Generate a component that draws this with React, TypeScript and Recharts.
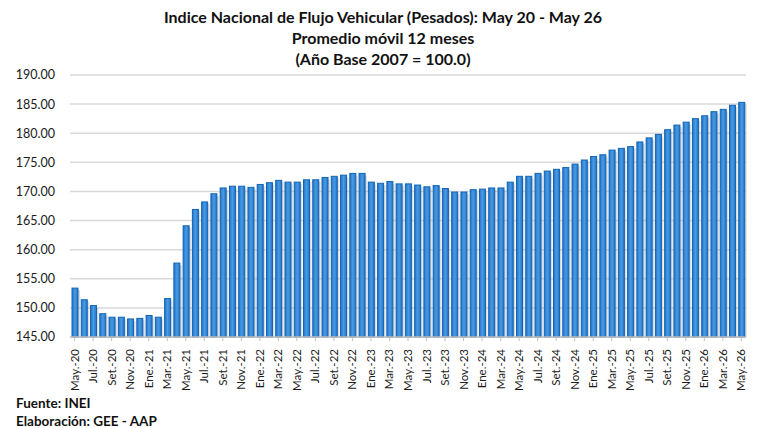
import { BarChart, Bar, XAxis, YAxis, CartesianGrid } from "recharts"

const MONTHS = [
  "May.-20", "Jun.-20", "Jul.-20", "Ago.-20", "Set.-20", "Oct.-20", "Nov.-20", "Dic.-20",
  "Ene.-21", "Feb.-21", "Mar.-21", "Abr.-21", "May.-21", "Jun.-21", "Jul.-21", "Ago.-21",
  "Set.-21", "Oct.-21", "Nov.-21", "Dic.-21", "Ene.-22", "Feb.-22", "Mar.-22", "Abr.-22",
  "May.-22", "Jun.-22", "Jul.-22", "Ago.-22", "Set.-22", "Oct.-22", "Nov.-22", "Dic.-22",
  "Ene.-23", "Feb.-23", "Mar.-23", "Abr.-23", "May.-23", "Jun.-23", "Jul.-23", "Ago.-23",
  "Set.-23", "Oct.-23", "Nov.-23", "Dic.-23", "Ene.-24", "Feb.-24", "Mar.-24", "Abr.-24",
  "May.-24", "Jun.-24", "Jul.-24", "Ago.-24", "Set.-24", "Oct.-24", "Nov.-24", "Dic.-24",
  "Ene.-25", "Feb.-25", "Mar.-25", "Abr.-25", "May.-25", "Jun.-25", "Jul.-25", "Ago.-25",
  "Set.-25", "Oct.-25", "Nov.-25", "Dic.-25", "Ene.-26", "Feb.-26", "Mar.-26", "Abr.-26",
  "May.-26",
]

const INDICE = [
  153.4, 151.4, 150.4, 149.0, 148.4, 148.4, 148.1, 148.2,
  148.7, 148.4, 151.6, 157.7, 164.1, 166.9, 168.2, 169.6,
  170.6, 170.9, 170.9, 170.7, 171.2, 171.5, 171.9, 171.6,
  171.6, 172.0, 172.0, 172.4, 172.6, 172.8, 173.1, 173.1,
  171.6, 171.4, 171.7, 171.3, 171.3, 171.1, 170.8, 171.0,
  170.5, 169.9, 169.9, 170.3, 170.4, 170.6, 170.6, 171.6,
  172.6, 172.6, 173.1, 173.5, 173.8, 174.1, 174.7, 175.4,
  176.0, 176.3, 177.1, 177.4, 177.7, 178.5, 179.2, 179.8,
  180.6, 181.4, 181.9, 182.5, 183.0, 183.7, 184.1, 184.8,
  185.3,
]

const Y_TICKS = [145, 150, 155, 160, 165, 170, 175, 180, 185, 190]

const TITLE = [
  "Indice Nacional de Flujo Vehicular (Pesados): May 20 - May 26",
  "Promedio móvil 12 meses",
  "(Año Base 2007 = 100.0)",
]

const data = MONTHS.map((m, i) => ({ mes: m, valor: INDICE[i] }))

const FONT = "Lato, 'Liberation Sans', sans-serif"

const BarShape = (props: any) => {
  const { x, y, width, height } = props
  if (height <= 0) return null
  return (
    <g>
      <rect x={x + 2} y={y + 2} width={width} height={height - 2} fill="#9a9a9a" opacity={0.35} />
      <rect x={x} y={y} width={width} height={height} fill="url(#barGrad)" stroke="#1464b4" strokeWidth={1} />
    </g>
  )
}

const XTick = ({ x, y, payload }: any) => (
  <text
    x={x} y={y + 6} dy={4}
    transform={`rotate(-90 ${x} ${y + 6})`}
    textAnchor="end" fontSize={11.5} fill="#1a1a1a" fontFamily={FONT}
  >
    {payload.value}
  </text>
)

export default function App() {
  return (
    <div style={{ position: "relative", width: 768, height: 428, background: "#fff", overflow: "hidden", fontFamily: FONT }}>
      <style>{"body{margin:0}"}</style>
      <div style={{ position: "absolute", top: 6, left: 0, width: 766, textAlign: "center", fontWeight: 700, fontSize: 16, lineHeight: "21px", color: "#111" }}>
        {TITLE.map((t) => <div key={t}>{t}</div>)}
      </div>
      <BarChart width={768} height={428} data={data} margin={{ top: 75, right: 22, bottom: 0, left: 0 }} barSize={6}>
        <defs>
          <linearGradient id="barGrad" x1="0" y1="0" x2="1" y2="0">
            <stop offset="0%" stopColor="#1f74c8" />
            <stop offset="50%" stopColor="#4a9be4" />
            <stop offset="100%" stopColor="#1f74c8" />
          </linearGradient>
        </defs>
        <CartesianGrid horizontal vertical={false} stroke="#d9d9d9" strokeWidth={1.5} />
        <XAxis
          dataKey="mes"
          interval={1}
          height={91}
          tick={<XTick />}
          tickLine={{ stroke: "#bfbfbf" }}
          tickSize={4}
          axisLine={{ stroke: "#bfbfbf", strokeWidth: 1.5 }}
        />
        <YAxis
          domain={[145, 190]}
          ticks={Y_TICKS}
          width={70}
          tickLine={false}
          axisLine={false}
          tickSize={0}
          tickMargin={15}
          tick={{ fontSize: 12.5, fill: "#1a1a1a", fontFamily: FONT }}
          tickFormatter={(v) => Number(v).toFixed(2)}
        />
        <Bar dataKey="valor" shape={<BarShape />} isAnimationActive={false} />
      </BarChart>
      <div style={{ position: "absolute", left: 16, top: 394, fontWeight: 700, fontSize: 13.5, color: "#111", lineHeight: "18px" }}>
        <div>Fuente: INEI</div>
        <div>Elaboración: GEE - AAP</div>
      </div>
    </div>
  )
}
